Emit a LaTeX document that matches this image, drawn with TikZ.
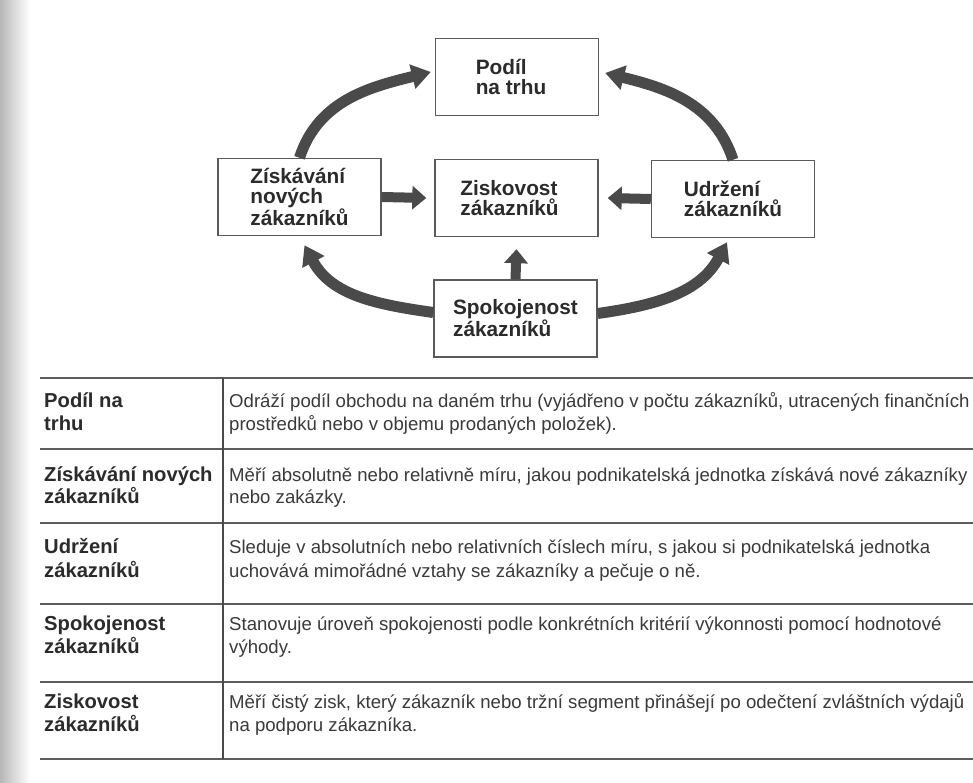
\documentclass[tikz,border=0pt]{standalone}
\usepackage{fontspec}
\setmainfont{Liberation Sans}
\usetikzlibrary{arrows.meta}
\definecolor{ink}{HTML}{2B2B2B}
\definecolor{frame}{HTML}{5A5A5A}
\definecolor{arrowgray}{HTML}{4A4A4A}
\definecolor{rule}{HTML}{5C5C5C}
\definecolor{bodytext}{HTML}{3A3A3A}

\begin{document}
\begin{tikzpicture}[x=1pt,y=1pt,
  box/.style={draw=frame, line width=1.4pt, minimum width=163pt, minimum height=77pt,
    inner sep=0pt, align=left, text=ink, font=\fontsize{20.8}{20.5}\selectfont\bfseries},
  flow/.style={draw=arrowgray, line width=10pt, -{Triangle[length=14pt,width=23pt]}},
  loop/.style={draw=arrowgray, line width=11pt, -{Triangle[length=19pt,width=24pt]}},
  head/.style={anchor=base west, inner sep=0pt, text=ink, font=\fontsize{20.2}{22}\selectfont\bfseries},
  body/.style={anchor=base west, inner sep=0pt, text=bodytext, font=\fontsize{18.6}{22}\selectfont},
  rowrule/.style={draw=rule, line width=1.3pt},
  colrule/.style={draw=rule!80!black, line width=1.4pt}
]
\useasboundingbox (0,0) rectangle (973,782);
\fill[white] (0,0) rectangle (973,782);
% shadow along the bound edge of the page
\shade[left color=black!28, right color=white] (0,0) rectangle (30,782);

% ---- diagram boxes
\node[box] (share)  at (517,705)     {Podíl\\na trhu\hspace*{12pt}};
\node[box] (gain)   at (299.5,585)   {Získávání\\nových\\zákazníků};
\node[box] (profit) at (516.5,584)   {Ziskovost\\zákazníků\hspace*{14pt}};
\node[box] (keep)   at (733,583)     {Udržení\\zákazníků};
\node[box] (satis)  at (515.5,463.5) {Spokojenost\\zákazníků};

% ---- straight arrows into profitability
\draw[flow] (gain.east) -- ([xshift=-8pt]profit.west);
\draw[flow] (keep.west) -- ([xshift=9pt]profit.east);
\draw[flow] (satis.north) -- ([yshift=-12pt]profit.south);

% ---- curved arrows around the cycle
\draw[loop] (gain.north) to[out=72,in=194] ([xshift=-4pt,yshift=5pt]share.west);
\draw[loop] (keep.north) to[out=108,in=-14] ([xshift=6pt,yshift=4pt]share.east);
\draw[loop] ([yshift=6pt]satis.west) to[out=172,in=-62] ([xshift=5pt,yshift=-9pt]gain.south);
\draw[loop] ([yshift=5pt]satis.east) to[out=8,in=242] ([xshift=-6pt,yshift=-4pt]keep.south);

% ---- table rules
\draw[rowrule] (40,404) -- (973,404);
\draw[rowrule] (40,333) -- (973,333);
\draw[rowrule] (40,259) -- (973,259);
\draw[rowrule] (40,178) -- (973,178);
\draw[rowrule] (40,100) -- (973,100);
\draw[rowrule] (40,23)  -- (973,23);
\draw[colrule] (223,404) -- (223,23);

% ---- table: terms
\node[head] (h1a) at (44,374) {Podíl na};
\node[head] (h1b) at (44,351) {trhu};
\node[head] (h2a) at (44,301) {Získávání nových};
\node[head] (h2b) at (44,279) {zákazníků};
\node[head] (h3a) at (44,229) {Udržení};
\node[head] (h3b) at (44,205) {zákazníků};
\node[head] (h4a) at (44,152) {Spokojenost};
\node[head] (h4b) at (44,129) {zákazníků};
\node[head] (h5a) at (44,74)  {Ziskovost};
\node[head] (h5b) at (44,51)  {zákazníků};

% ---- table: descriptions
\node[body] (d1a) at (229,374) {Odráží podíl obchodu na daném trhu (vyjádřeno v počtu zákazníků, utracených finančních};
\node[body] (d1b) at (229,351) {prostředků nebo v objemu prodaných položek).};
\node[body] (d2a) at (229,301) {Měří absolutně nebo relativně míru, jakou podnikatelská jednotka získává nové zákazníky};
\node[body] (d2b) at (229,279) {nebo zakázky.};
\node[body] (d3a) at (229,229) {Sleduje v absolutních nebo relativních číslech míru, s jakou si podnikatelská jednotka};
\node[body] (d3b) at (229,205) {uchovává mimořádné vztahy se zákazníky a pečuje o ně.};
\node[body] (d4a) at (229,152) {Stanovuje úroveň spokojenosti podle konkrétních kritérií výkonnosti pomocí hodnotové};
\node[body] (d4b) at (229,129) {výhody.};
\node[body] (d5a) at (229,74)  {Měří čistý zisk, který zákazník nebo tržní segment přinášejí po odečtení zvláštních výdajů};
\node[body] (d5b) at (229,51)  {na podporu zákazníka.};
\end{tikzpicture}
\end{document}
